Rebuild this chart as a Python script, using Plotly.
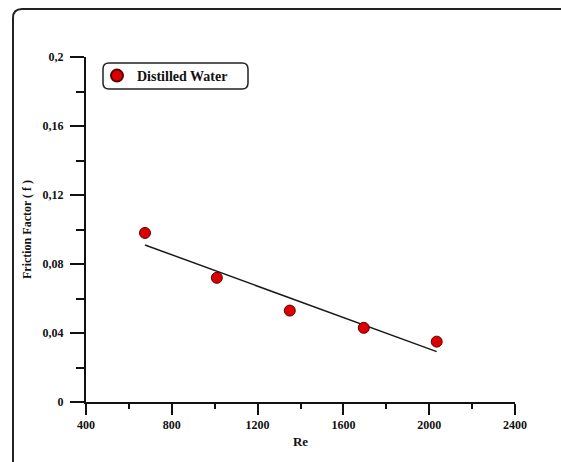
import numpy as np
import plotly.graph_objects as go

# Measured friction factor vs Reynolds number
reynolds = [675, 1010, 1350, 1695, 2035]
friction = [0.098, 0.072, 0.053, 0.043, 0.035]
series_name = "Distilled Water"

y_tickvals = [0, 0.04, 0.08, 0.12, 0.16, 0.2]
y_ticktext = ["0", "0,04", "0,08", "0,12", "0,16", "0,2"]
x_tickvals = [400, 800, 1200, 1600, 2000, 2400]

# Least-squares trend line through the measurements
slope, intercept = np.polyfit(reynolds, friction, 1)
fit_x = [min(reynolds), max(reynolds)]
fit_y = [slope * v + intercept for v in fit_x]

W, H = 561, 462
ML, MR, MT, MB = 86, 46, 57, 60
PW, PH = W - ML - MR, H - MT - MB

def px(x):
    return (x - ML) / PW

def py(y):
    return (H - MB - y) / PH

font_family = "Liberation Serif"

fig = go.Figure()
fig.add_trace(go.Scatter(
    x=fit_x, y=fit_y, mode="lines",
    line=dict(color="#1a1a1a", width=1.5),
    showlegend=False, hoverinfo="skip",
))
fig.add_trace(go.Scatter(
    x=reynolds, y=friction, mode="markers", name=series_name,
    marker=dict(color="#dc0000", size=11, line=dict(color="#5a0000", width=1)),
))

# Outer frame with a rounded top-left corner
r = 9
fx0, fy0, fx1, fy1 = px(13), py(9), px(570), py(470)
rx, ry = r / PW, r / PH
frame_path = (
    f"M {fx1},{fy0} L {fx0 + rx},{fy0} Q {fx0},{fy0} {fx0},{fy0 - ry} "
    f"L {fx0},{fy1}"
)

# Rounded box around the legend
lx0, ly0, lx1, ly1 = px(103), py(63), px(248), py(89)
lrx, lry = 6 / PW, 6 / PH
legend_path = (
    f"M {lx0 + lrx},{ly0} L {lx1 - lrx},{ly0} Q {lx1},{ly0} {lx1},{ly0 - lry} "
    f"L {lx1},{ly1 + lry} Q {lx1},{ly1} {lx1 - lrx},{ly1} "
    f"L {lx0 + lrx},{ly1} Q {lx0},{ly1} {lx0},{ly1 + lry} "
    f"L {lx0},{ly0 - lry} Q {lx0},{ly0} {lx0 + lrx},{ly0} Z"
)

fig.update_layout(
    width=W, height=H,
    margin=dict(l=ML, r=MR, t=MT, b=MB, pad=0),
    paper_bgcolor="white", plot_bgcolor="white",
    font=dict(family=font_family, color="#111", size=12),
    shapes=[
        dict(type="path", path=frame_path, xref="paper", yref="paper",
             line=dict(color="#222", width=2), layer="above"),
        dict(type="path", path=legend_path, xref="paper", yref="paper",
             line=dict(color="#222", width=1.5), layer="above"),
    ],
    legend=dict(
        x=px(97), y=py(76), xanchor="left", yanchor="middle",
        bgcolor="rgba(0,0,0,0)", borderwidth=0,
        font=dict(family=font_family, size=14, color="#111", weight="bold"),
        itemsizing="constant",
    ),
    xaxis=dict(
        range=[400, 2400], tickvals=x_tickvals,
        showline=True, linecolor="#111", linewidth=2,
        ticks="outside", ticklen=11, tickwidth=2, tickcolor="#111",
        minor=dict(ticks="outside", ticklen=5, tickwidth=2, tickcolor="#111", dtick=200),
        showgrid=False, zeroline=False,
        tickfont=dict(family=font_family, size=12, weight="bold"),
        title=dict(text="Re", standoff=5,
                   font=dict(family=font_family, size=13, weight="bold")),
    ),
    yaxis=dict(
        range=[0, 0.2], tickvals=y_tickvals, ticktext=y_ticktext,
        showline=True, linecolor="#111", linewidth=2,
        ticks="outside", ticklen=14, tickwidth=2, tickcolor="#111",
        minor=dict(ticks="outside", ticklen=8, tickwidth=2, tickcolor="#111", dtick=0.02),
        showgrid=False, zeroline=False,
        tickfont=dict(family=font_family, size=12, weight="bold"),
        ticklabelstandoff=4,
        title=dict(text="Friction Factor ( f )", standoff=8,
                   font=dict(family=font_family, size=12, weight="bold")),
    ),
)

fig.write_html("out.html")
